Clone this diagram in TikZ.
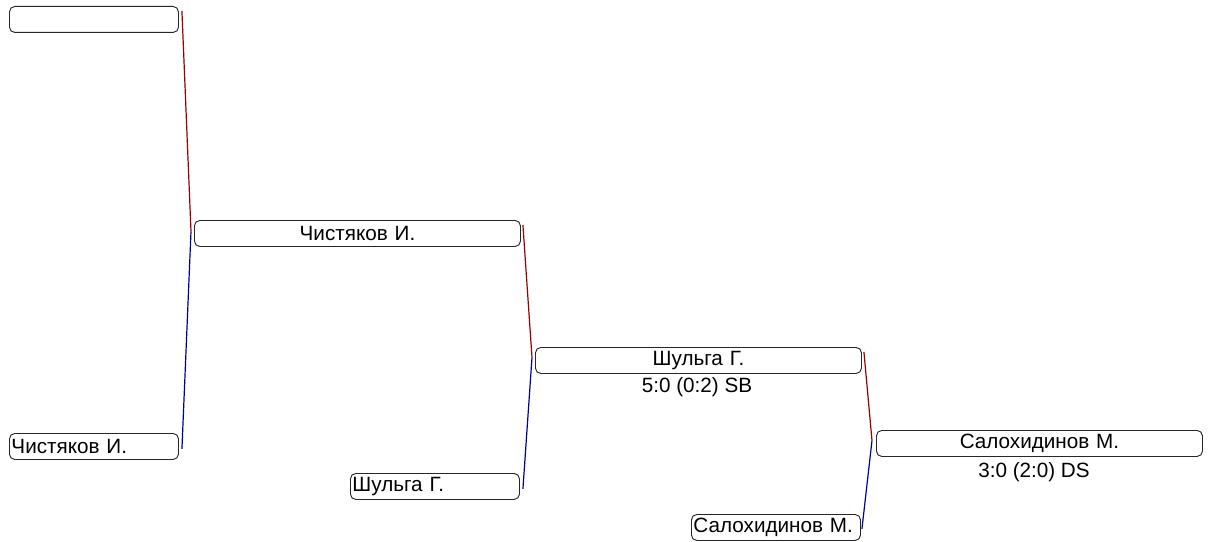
\documentclass[tikz,border=0pt]{standalone}
\usepackage{fontspec}
\setmainfont{Liberation Sans}
\usepackage{xcolor}
\usetikzlibrary{calc}

\definecolor{winred}{RGB}{150,0,0}
\definecolor{loseblue}{RGB}{0,0,150}

\tikzset{
  slot/.style={draw=black!85, line width=0.7pt, rounded corners=4pt, anchor=north west,
    minimum height=26*0.75pt, inner xsep=1.5pt, inner ysep=0pt, font=\fontsize{15.5}{17}\selectfont},
  seed/.style={slot, text width=123.75pt, align=left},
  winner/.style={slot, text width=241.5pt, align=center},
  score/.style={inner sep=0pt, font=\fontsize{15.5}{17}\selectfont},
  upper/.style={draw=winred, line width=0.9pt},
  lower/.style={draw=loseblue, line width=0.9pt},
}

\begin{document}
\begin{tikzpicture}[x=0.75pt,y=0.75pt,yscale=-1,xscale=1]
\useasboundingbox (0,0) rectangle (1211,542);

% first round
\node [seed] (s1) at (9,6) {\strut};
\node [seed] (s2) at (9,433) {Чистяков И.};
\node [winner] (w1) at (194,220) {Чистяков И.};

% second round
\node [seed] (s3) at (350,473) {Шульга Г.};
\node [winner] (w2) at (535,347) {Шульга Г.};
\node [score] (r2) at (697,387) {5:0 (0:2) SB};

% final
\node [seed] (s4) at (691,514) {Салохидинов М.};
\node [winner] (w3) at (876,430) {Салохидинов М.};
\node [score] (r3) at (1034,472) {3:0 (2:0) DS};

% joints
\coordinate (j1) at ($(w1.west)+(-3,-2)$);
\coordinate (j2) at ($(w2.west)+(-3,-3)$);
\coordinate (j3) at ($(w3.west)+(-4,-3)$);

\draw [upper] ($(s1.north east)+(3,5)$) -- (j1);
\draw [lower] (j1) -- ($(s2.south east)+(3,-11)$);
\draw [upper] ($(w1.north east)+(2,5)$) -- (j2);
\draw [lower] (j2) -- ($(s3.south east)+(3,-11)$);
\draw [upper] ($(w2.north east)+(2,5)$) -- (j3);
\draw [lower] (j3) -- ($(s4.south east)+(1,-12)$);

\end{tikzpicture}
\end{document}
